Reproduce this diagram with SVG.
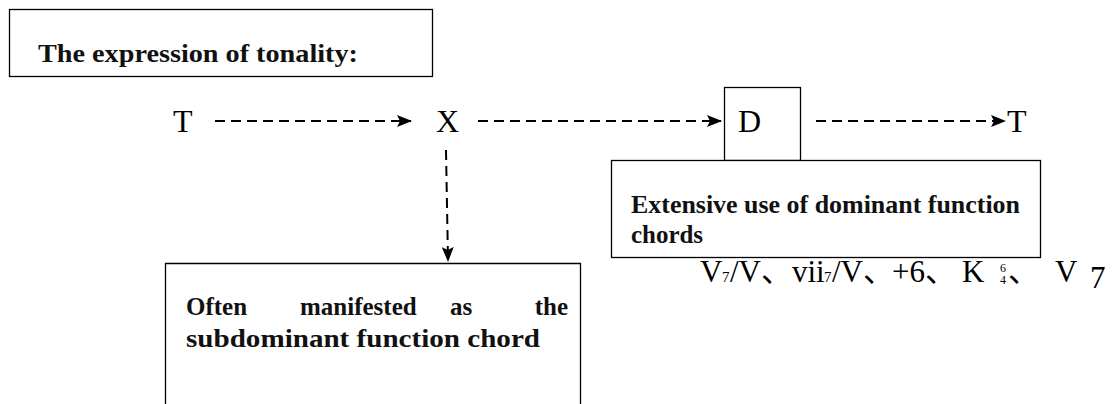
<svg xmlns="http://www.w3.org/2000/svg" width="1118" height="404" viewBox="0 0 1118 404">
<style>
.box{fill:#fff;stroke:#000;stroke-width:1.3}
.bt{font-family:"Liberation Serif",serif;font-weight:bold;font-size:25px;fill:#111}
.big{font-family:"Liberation Serif",serif;font-size:32px;fill:#000}
.ch{font-family:"Liberation Serif","Noto Sans CJK SC",serif;font-size:31px;fill:#000}
.sm{font-family:"Liberation Serif",serif;font-size:15px;fill:#000}
.tiny{font-family:"Liberation Serif",serif;font-size:12px;fill:#000}
.dash{fill:none;stroke:#000;stroke-width:2;stroke-dasharray:10 6}
</style>
<defs>
<marker id="ah" viewBox="0 0 15 12" refX="14" refY="6" markerWidth="15" markerHeight="12" markerUnits="userSpaceOnUse" orient="auto">
<path d="M0,0 L15,6 L0,12 L3,6 z" fill="#000"/>
</marker>
</defs>
<rect width="1118" height="404" fill="#fff"/>
<g id="title">
<rect class="box" x="9.5" y="9.5" width="423" height="67"/>
<text class="bt" x="38" y="62" textLength="320" lengthAdjust="spacingAndGlyphs">The expression of tonality:</text>
</g>
<g id="t1"><text class="big" x="173" y="132">T</text></g>
<g id="x"><text class="big" x="436" y="132">X</text></g>
<g id="d">
<rect class="box" x="724.5" y="87.5" width="76" height="73"/>
<text class="big" x="738" y="132">D</text>
</g>
<g id="t2"><text class="big" x="1007" y="132">T</text></g>
<g id="dominant">
<rect class="box" x="611.5" y="160.5" width="429" height="97"/>
<text class="bt" x="631" y="213" textLength="389" lengthAdjust="spacingAndGlyphs">Extensive use of dominant function</text>
<text class="bt" x="631" y="243" textLength="72" lengthAdjust="spacingAndGlyphs">chords</text>
</g>
<g id="chords">
<text class="ch" x="700" y="282">V</text>
<text class="sm" x="722" y="282">7</text>
<text class="ch" x="730" y="282">/V、</text>
<text class="ch" x="792" y="282">vii</text>
<text class="sm" x="824" y="282">7</text>
<text class="ch" x="832" y="282">/V、</text>
<text class="ch" x="892" y="282">+6、</text>
<text class="ch" x="962" y="282">K</text>
<text class="tiny" x="1000" y="272">6</text>
<text class="tiny" x="1000" y="284">4</text>
<text class="ch" x="1008" y="282">、</text>
<text class="ch" x="1055" y="282">V</text>
<text class="ch" x="1090" y="288" font-size="26">7</text>
</g>
<g id="subdominant">
<path class="box" d="M165.5,404 V263.5 H580.5 V404"/>
<text class="bt" y="315"><tspan x="186">Often</tspan><tspan x="300">manifested</tspan><tspan x="450">as</tspan><tspan x="568" text-anchor="end">the</tspan></text>
<text class="bt" x="186" y="347" textLength="354" lengthAdjust="spacingAndGlyphs">subdominant function chord</text>
</g>
<g id="connectors">
<line class="dash" x1="215" y1="121" x2="411" y2="121" marker-end="url(#ah)"/>
<line class="dash" x1="478" y1="121" x2="721" y2="121" marker-end="url(#ah)"/>
<line class="dash" x1="816" y1="121" x2="1005" y2="121" marker-end="url(#ah)"/>
<line class="dash" x1="446" y1="150" x2="448" y2="261" marker-end="url(#ah)"/>
</g>
</svg>
